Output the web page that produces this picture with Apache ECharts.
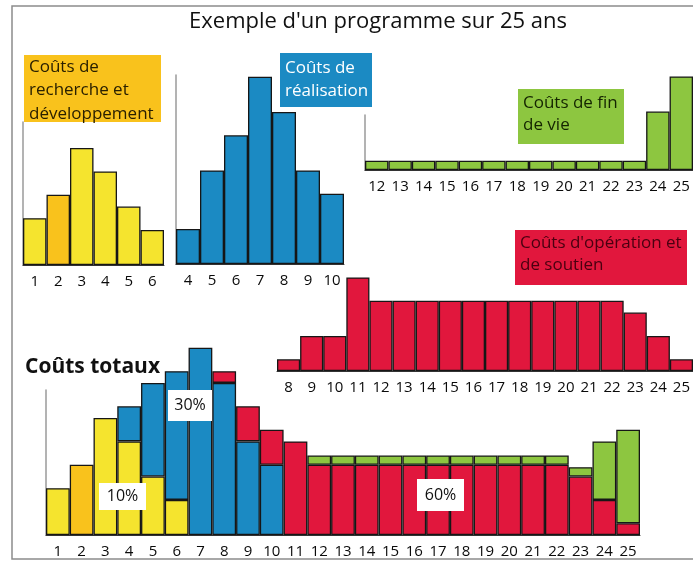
<!DOCTYPE html>
<html><head><meta charset="utf-8">
<script src="https://cdn.jsdelivr.net/npm/echarts@6.0.0/dist/echarts.min.js"></script>
<style>html,body{margin:0;padding:0;background:#fff}#c{width:693px;height:570px}</style>
</head><body><div id="c"></div>
<script>
// ---- data ----
const rdYears = ['1','2','3','4','5','6'];
const rdCosts = [4,6,10,8,5,3];
const rdHighlightYear = '2';
const realYears = ['4','5','6','7','8','9','10'];
const realCosts = [3,8,11,16,13,8,6];
const finYears = ['12','13','14','15','16','17','18','19','20','21','22','23','24','25'];
const finCosts = [0.8,0.8,0.8,0.8,0.8,0.8,0.8,0.8,0.8,0.8,0.8,0.8,5,8];
const opYears = ['8','9','10','11','12','13','14','15','16','17','18','19','20','21','22','23','24','25'];
const opCosts = [1,3,3,8,6,6,6,6,6,6,6,6,6,6,6,5,3,1];
const allYears = ['1','2','3','4','5','6','7','8','9','10','11','12','13','14','15','16','17','18','19','20','21','22','23','24','25'];
const shareLabels = ['10%','30%','60%'];

// ---- style ----
const YELLOW = '#f5e42e', ORANGE = '#f9c21c', BLUE = '#1b8ac3', RED = '#e1173d', GREEN = '#8dc640';
const UNIT = 11.7; // px per cost unit (same scale in every panel)
const FONT = 'Open Sans';

const grids = [
  {left: 23, top: 122, width: 141, height: 143},   // R&D
  {left: 176, top: 75, width: 168, height: 189},   // réalisation
  {left: 365, top: 115, width: 328, height: 55},   // fin de vie
  {left: 277, top: 254, width: 425, height: 117},  // opération
  {left: 46, top: 390, width: 594, height: 145}    // totaux
];
const showY = [true, true, true, false, true];
const catData = [rdYears, realYears, finYears, opYears, allYears];

const xAxes = catData.map((d, i) => ({
  type: 'category', gridIndex: i, data: d,
  axisLine: {show: true, lineStyle: {color: '#333', width: 1}},
  axisTick: {show: false},
  axisLabel: {interval: 0, margin: 9, fontFamily: FONT, fontSize: 15, color: '#0a0a0a'}
}));
const yAxes = grids.map((g, i) => ({
  type: 'value', gridIndex: i, min: 0, max: g.height / UNIT,
  axisLine: {show: showY[i], lineStyle: {color: '#9a9a9a', width: 1.5}},
  axisTick: {show: false}, axisLabel: {show: false}, splitLine: {show: false}
}));

const barBase = {type: 'bar', barCategoryGap: '0%', clip: false,
  itemStyle: {borderColor: '#161616', borderWidth: 1.3}, emphasis: {disabled: true}};

function lookup(years, vals) {
  return allYears.map(y => { const k = years.indexOf(y); return k < 0 ? '-' : vals[k]; });
}
const rdItems = rdCosts.map((v, k) => rdYears[k] === rdHighlightYear ? {value: v, itemStyle: {color: ORANGE}} : v);

function bars(xi, data, color, stack) {
  const s = Object.assign({}, barBase, {xAxisIndex: xi, yAxisIndex: xi, data: data,
    itemStyle: Object.assign({}, barBase.itemStyle, {color: color})});
  if (stack) s.stack = stack;
  return s;
}
const series = [
  bars(0, rdItems, YELLOW),
  bars(1, realCosts, BLUE),
  bars(2, finCosts, GREEN),
  bars(3, opCosts, RED),
  bars(4, lookup(rdYears, rdItems), YELLOW, 't'),
  bars(4, lookup(realYears, realCosts), BLUE, 't'),
  bars(4, lookup(opYears, opCosts), RED, 't'),
  bars(4, lookup(finYears, finCosts), GREEN, 't')
];

function box(x, y, w, h, fill, lines, color, opts) {
  opts = opts || {};
  return {type: 'group', x: x, y: y, z: 100, children: [
    {type: 'rect', z: 100, shape: {x: 0, y: 0, width: w, height: h}, style: {fill: fill}},
    {type: 'text', z: 101, x: opts.tx != null ? opts.tx : 5, y: opts.ty != null ? opts.ty : 4,
      style: {text: lines.join('\n'), fill: color, font: (opts.weight || 'normal') + ' ' + (opts.size || 17) + 'px "' + FONT + '"',
        lineHeight: opts.lh || 23.5, align: opts.align || 'left', letterSpacing: opts.ls != null ? opts.ls : -0.4}}
  ]};
}

const graphic = [
  {type: 'rect', shape: {x: 12, y: 6, width: 720, height: 553}, style: {fill: 'none', stroke: '#8c8c8c', lineWidth: 1.5}, z: 0},
  {type: 'text', x: 378, y: 11, z: 100, style: {text: 'Exemple d\'un programme sur 25 ans', fill: '#111', font: '22px "' + FONT + '"', align: 'center', letterSpacing: -0.4}},
  box(24, 55, 137, 67, ORANGE, ['Coûts de', 'recherche et', 'développement'], '#2a2000', {ty: 0}),
  box(280, 53, 92, 54, BLUE, ['Coûts de', 'réalisation'], '#ffffff', {ty: 3}),
  box(518, 89, 106, 55, GREEN, ['Coûts de fin', 'de vie'], '#142400', {ty: 3, lh: 22}),
  box(515, 230, 172, 55, RED, ['Coûts d\'opération et', 'de soutien'], '#4a0010', {ty: 2, lh: 22}),
  {type: 'text', x: 25, y: 357, z: 100, style: {text: 'Coûts totaux', fill: '#111', font: 'bold 21px "' + FONT + '"', letterSpacing: -0.6}},
  box(99, 483, 47, 27, '#ffffff', [shareLabels[0]], '#111', {tx: 23.5, ty: 1.5, align: 'center', size: 16, lh: 24, ls: -0.3}),
  box(168, 390, 44, 31, '#ffffff', [shareLabels[1]], '#111', {tx: 22, ty: 3.5, align: 'center', size: 16, lh: 24, ls: -0.3}),
  box(417, 479, 47, 32, '#ffffff', [shareLabels[2]], '#111', {tx: 23.5, ty: 4, align: 'center', size: 16, lh: 24, ls: -0.3})
];

const chart = echarts.init(document.getElementById('c'), null, {renderer: 'canvas'});
chart.setOption({animation: false, backgroundColor: '#fff', grid: grids, xAxis: xAxes, yAxis: yAxes, series: series, graphic: graphic});
</script></body></html>
